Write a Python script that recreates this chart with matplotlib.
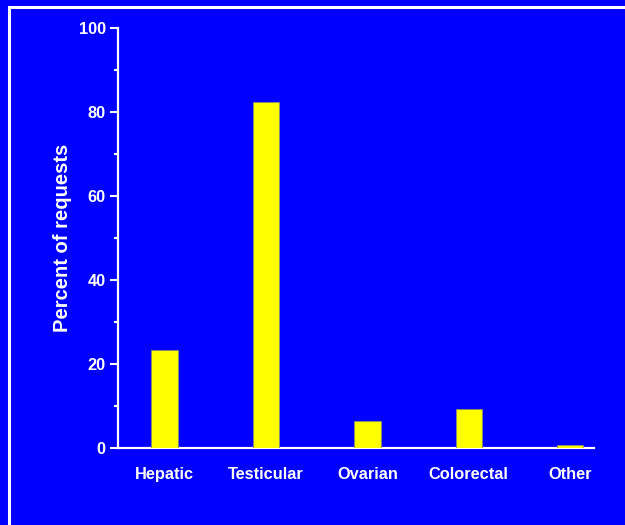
import matplotlib.pyplot as plt
from matplotlib.patches import Rectangle

# share of requests by tumour site
sites = ['Hepatic', 'Testicular', 'Ovarian', 'Colorectal', 'Other']
percent = [23.3, 82.4, 6.3, 9.2, 0.6]

blue = '#0000FF'
yellow = '#FFFF00'

plt.rcParams['font.family'] = ['Liberation Sans', 'DejaVu Sans']
plt.rcParams['font.weight'] = 'bold'

fig = plt.figure(figsize=(6.25, 5.25), dpi=100, facecolor=blue)

# white frame around the slide (runs off the right and bottom edges)
fig.patches.append(Rectangle((9 / 625, -0.1), 1.2, 1 - 6.5 / 525 + 0.1,
                             transform=fig.transFigure, fill=False,
                             edgecolor='white', linewidth=2.2))

ax = fig.add_axes([117.5 / 625, 77.5 / 525, (594 - 117.5) / 625, (447.5 - 28) / 525])
ax.set_facecolor(blue)

x = list(range(len(sites)))
ax.bar(x, percent, width=0.26, color=yellow, edgecolor='#8a8a70',
       linewidth=0.6, zorder=3)

ax.set_xlim(-0.465, 4.235)
ax.set_ylim(0, 100)
ax.set_yticks([0, 20, 40, 60, 80, 100])
ax.set_yticks(range(10, 100, 20), minor=True)
ax.set_xticks(x)
ax.set_xticklabels(sites)

for side in ['top', 'right']:
    ax.spines[side].set_visible(False)
for side in ['left', 'bottom']:
    ax.spines[side].set_color('white')
    ax.spines[side].set_linewidth(1.6)

ax.tick_params(axis='y', which='major', colors='white', length=5.5, width=1.5,
               labelsize=11.8, pad=3)
ax.tick_params(axis='y', which='minor', colors='white', length=3, width=1.5)
ax.tick_params(axis='x', colors='white', length=0, labelsize=11.8, pad=14)

ax.set_ylabel('Percent of requests', color='white', fontsize=14.5,
              fontweight='bold', labelpad=4.5)

fig.savefig('out.png', dpi=100, facecolor=blue)
